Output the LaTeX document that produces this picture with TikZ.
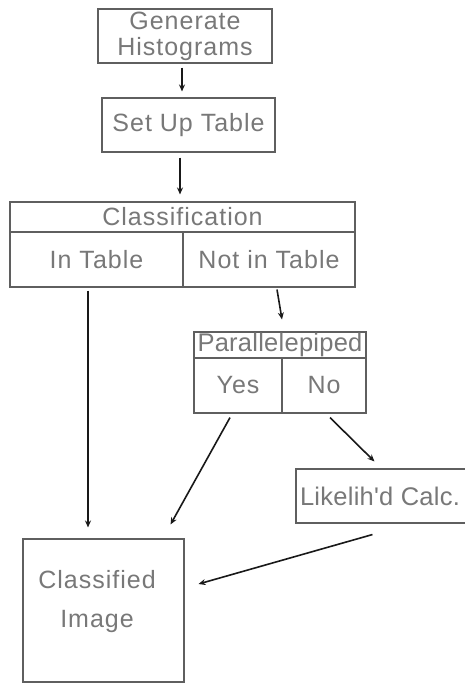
\documentclass[tikz,border=0pt]{standalone}
\usepackage{fontspec}
\setmainfont{Liberation Sans}
\newfontfamily\diafont{Liberation Sans}[LetterSpace=4]
\newfontfamily\diatight{Liberation Sans}[LetterSpace=1]
\usetikzlibrary{calc,arrows.meta}
\definecolor{txt}{RGB}{120,120,120}
\definecolor{boxline}{RGB}{95,95,95}
\definecolor{arrcol}{RGB}{25,25,25}
\begin{document}
\begin{tikzpicture}[x=1pt,y=-1pt,
  cell/.style={draw=boxline,line width=1.1pt,rectangle,inner sep=0pt,text=txt,
    font=\diafont\fontsize{25}{26}\selectfont,align=center},
  tightfont/.style={font=\diatight\fontsize{25.5}{26}\selectfont},
  plain/.style={inner sep=0pt,text=txt,font=\diafont\fontsize{25}{39}\selectfont,align=center},
  arr/.style={draw=arrcol,line width=1.6pt,-{Stealth[length=7pt,width=6pt]}}]
\fill[white] (0,0) rectangle (465,683);
\useasboundingbox (0,0) rectangle (465,683);
\clip (0,0) rectangle (465,683);
% boxes
\node[cell,minimum width=174pt,minimum height=54pt] (gen) at (185,36) {Generate\\Histograms};
\node[cell,minimum width=173pt,minimum height=54pt] (setup) at (188.5,125) {Set Up Table};
\node[cell,minimum width=345pt,minimum height=30pt] (clstitle) at (182.5,217) {Classification};
\node[cell,minimum width=173pt,minimum height=55pt] (intab) at (96.5,259.5) {In Table};
\node[cell,minimum width=172pt,minimum height=55pt] (nottab) at (269,259.5) {Not in Table};
\node[cell,tightfont,minimum width=172pt,minimum height=26pt] (paratitle) at (280,345) {Parallelepiped};
\node[cell,minimum width=88pt,minimum height=55pt] (yes) at (238,385.5) {Yes};
\node[cell,minimum width=84pt,minimum height=55pt] (no) at (324,385.5) {No};
\node[cell,minimum width=174pt,minimum height=54pt] (lik) at (383,496) {};
\node[plain,tightfont] (liktext) at (380,496) {Likelih'd Calc.};
\node[cell,minimum width=161pt,minimum height=143pt] (ci) at (103.5,610.5) {};
\node[plain] (citext) at (97,602) {Classified\\Image};
% connectors
\draw[arr] ($(gen.south)+(-3,4)$) -- ($(setup.north)+(-6.5,-6)$);
\draw[arr] ($(setup.south)+(-8.5,5)$) -- ($(clstitle.north)+(-2.5,-7)$);
\draw[arr] ($(intab.south)+(-8.5,3)$) -- ($(ci.north)+(-15.5,-11)$);
\draw[arr] ($(nottab.south)+(8,2)$) -- ($(paratitle.north)+(2,-12)$);
\draw[arr] ($(yes.south)+(-8,4)$) -- ($(ci.north east)+(-14,-14)$);
\draw[arr] ($(no.south)+(6,4)$) -- ($(lik.north west)+(79,-7)$);
\draw[arr] ($(lik.south west)+(77,11)$) -- ($(ci.east)+(14,-26.5)$);
\end{tikzpicture}
\end{document}
